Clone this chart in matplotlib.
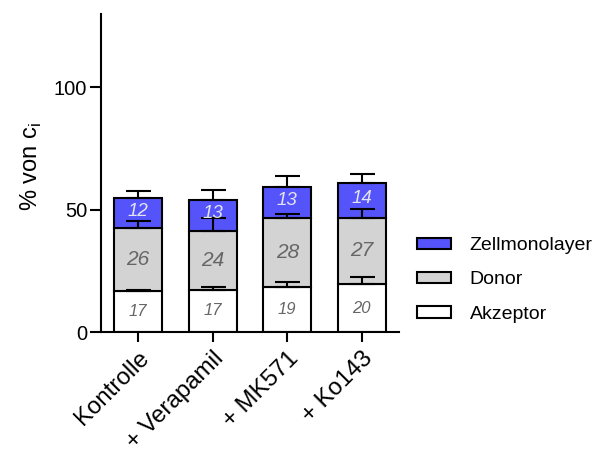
import matplotlib
matplotlib.use("Agg")
import matplotlib.pyplot as plt
import numpy as np
from matplotlib.patches import Patch

plt.rcParams['font.family'] = ['Liberation Sans', 'DejaVu Sans']

categories = ["Kontrolle", "+ Verapamil", "+ MK571", "+ Ko143"]
akzeptor = [16.9, 17.3, 18.6, 19.6]
donor = [25.6, 24.1, 28.2, 27.2]
zellmonolayer = [12.2, 12.6, 12.6, 14.1]
akzeptor_err = [0.4, 0.9, 1.8, 3.0]
donor_err = [3.0, 5.0, 1.3, 3.5]
zellmonolayer_err = [3.1, 3.9, 4.4, 3.7]
yticks = [0, 50, 100]

blue = "#5454FA"
grey = "#D3D3D3"

fig = plt.figure(figsize=(5.98, 4.55), dpi=100)
ax = fig.add_axes([101/598, 123/455, 298/598, 318/455])

x = np.arange(len(categories))
w = 0.65
a = np.array(akzeptor)
d = np.array(donor)
z = np.array(zellmonolayer)

segments = [
    (a, np.zeros_like(a), "white", "Akzeptor", akzeptor_err),
    (d, a, grey, "Donor", donor_err),
    (z, a + d, blue, "Zellmonolayer", zellmonolayer_err),
]
for vals, bottom, col, name, err in segments:
    ax.bar(x, vals, w, bottom=bottom, color=col, edgecolor="black",
           linewidth=1.5, zorder=2)
    ax.errorbar(x, bottom + vals, yerr=[np.zeros(len(err)), err], fmt="none",
                ecolor="black", elinewidth=1.5, capsize=9, capthick=1.5,
                zorder=3)

# value labels inside each segment
for i in range(len(x)):
    ax.text(x[i], a[i] / 2, f"{a[i]:.0f}", ha="center", va="center",
            style="italic", fontsize=12, color="#666666", zorder=4)
    ax.text(x[i], a[i] + d[i] / 2, f"{d[i]:.0f}", ha="center", va="center",
            style="italic", fontsize=15, color="#666666", zorder=4)
    ax.text(x[i], a[i] + d[i] + z[i] / 2 + 0.8, f"{z[i]:.0f}", ha="center",
            va="center", style="italic", fontsize=13.5, color="#E4E4EE",
            zorder=4)

ax.set_xlim(-0.5, 3.5)
ax.set_ylim(0, 130)
ax.set_yticks(yticks)
ax.set_xticks(x)
ax.set_xticklabels(categories, rotation=45, ha="right", rotation_mode="anchor",
                   fontsize=17.3)
ax.tick_params(axis="y", labelsize=14.5, length=8, width=1.5, pad=2)
ax.tick_params(axis="x", length=7, width=1.5, pad=4)
for s in ["top", "right"]:
    ax.spines[s].set_visible(False)
for s in ["left", "bottom"]:
    ax.spines[s].set_linewidth(1.5)

ax.set_ylabel("% von c$_{\\mathregular{i}}$", fontsize=17)
ax.yaxis.set_label_coords(-0.19, 0.52)

handles = [Patch(facecolor=blue, edgecolor="black", linewidth=1.5),
           Patch(facecolor=grey, edgecolor="black", linewidth=1.5),
           Patch(facecolor="white", edgecolor="black", linewidth=1.5)]
fig.legend(handles, ["Zellmonolayer", "Donor", "Akzeptor"],
           loc="center left", bbox_to_anchor=(417/598, 1 - 280/455),
           frameon=False, fontsize=14, handlelength=1.75, handleheight=0.55,
           handletextpad=0.95, labelspacing=0.88, borderpad=0, borderaxespad=0)

fig.savefig("out.png", dpi=100)
